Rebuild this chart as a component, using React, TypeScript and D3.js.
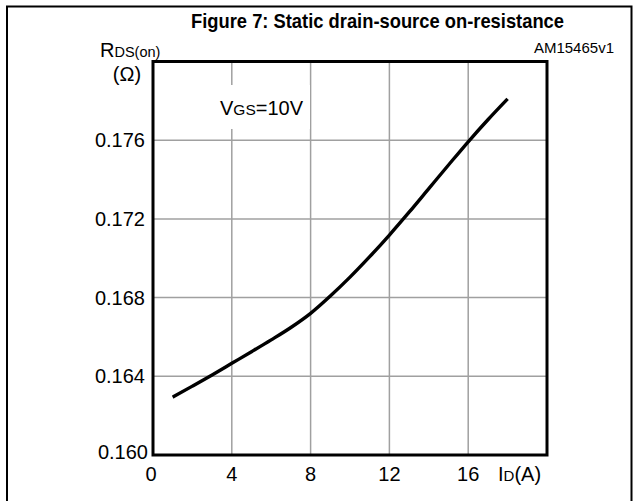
import React from "react";
import * as d3 from "d3";

const currentA = [1, 2, 3, 4, 5, 6, 7, 8, 9, 10, 11, 12, 13, 14, 15, 16, 17, 18];
const rdsOhm = [0.16294, 0.1635, 0.16407, 0.16466, 0.16525, 0.16585, 0.16648, 0.1672, 0.16808, 0.16904, 0.17008, 0.17118, 0.17234, 0.17354, 0.17474, 0.17592, 0.17704, 0.1781];
const xTicks = [0, 4, 8, 12, 16];
const xGrid = [4, 8, 12, 16];
const yTicks = [0.16, 0.164, 0.168, 0.172, 0.176];
const yGrid = [0.164, 0.168, 0.172, 0.176];

const FONT = "'Liberation Sans', Arial, Helvetica, sans-serif";

export default function App() {
  const left = 153, right = 547, top = 61.5, bottom = 455;
  const x = d3.scaleLinear().domain([0, 20]).range([left, right]);
  const y = d3.scaleLinear().domain([0.16, 0.18]).range([bottom, top]);
  const line = d3
    .line<number>()
    .x((_, i) => x(currentA[i]))
    .y((d) => y(d))
    .curve(d3.curveMonotoneX);
  const path = line(rdsOhm) || "";

  return (
    <svg
      width={636}
      height={501}
      style={{ position: "absolute", left: 0, top: 0, background: "#fff" }}
      fontFamily={FONT}
    >
      <rect x={0} y={0} width={636} height={501} fill="#fff" />
      {/* outer frame */}
      <path d="M7,510 L7,6.5 L631.5,6.5 L631.5,510" fill="none" stroke="#000" strokeWidth={2} />
      <text
        x={191}
        y={28}
        fontSize={21}
        fontWeight="bold"
        textLength={373}
        lengthAdjust="spacingAndGlyphs"
      >
        Figure 7: Static drain-source on-resistance
      </text>
      <text x={614} y={53} textAnchor="end" fontSize={15}>
        AM15465v1
      </text>

      {/* grid */}
      {xGrid.map((v) => (
        <line key={"gx" + v} x1={x(v)} x2={x(v)} y1={top} y2={bottom} stroke="#a0a0a0" strokeWidth={1.5} />
      ))}
      {yGrid.map((v) => (
        <line key={"gy" + v} x1={left} x2={right} y1={y(v)} y2={y(v)} stroke="#a0a0a0" strokeWidth={1.5} />
      ))}

      {/* condition label with white background */}
      <rect x={216} y={85} width={94} height={44} fill="#fff" />
      <text x={220} y={115} fontSize={20}>
        V<tspan fontSize={15.5}>GS</tspan>=10V
      </text>

      {/* curve */}
      <path d={path} fill="none" stroke="#000" strokeWidth={3.4} />

      {/* plot frame */}
      <rect x={left} y={top} width={right - left} height={bottom - top} fill="none" stroke="#000" strokeWidth={3} />

      {/* y ticks */}
      {yTicks.map((v) => (
        <text
          key={"ty" + v}
          x={v === 0.16 ? 148 : 145}
          y={v === 0.16 ? 459 : y(v) + 7}
          textAnchor="end"
          fontSize={20}
        >
          {d3.format(".3f")(v)}
        </text>
      ))}
      {/* x ticks */}
      {xTicks.map((v) => (
        <text key={"tx" + v} x={x(v) - (v === 0 ? 2 : 0)} y={481} textAnchor="middle" fontSize={20}>
          {v}
        </text>
      ))}

      {/* axis titles */}
      <text x={100} y={57} fontSize={20}>
        R<tspan fontSize={14.5}>DS(on)</tspan>
      </text>
      <text x={127} y={81} textAnchor="middle" fontSize={20}>
        (Ω)
      </text>
      <text x={498} y={481} fontSize={20}>
        I<tspan fontSize={15}>D</tspan>(A)
      </text>
    </svg>
  );
}
